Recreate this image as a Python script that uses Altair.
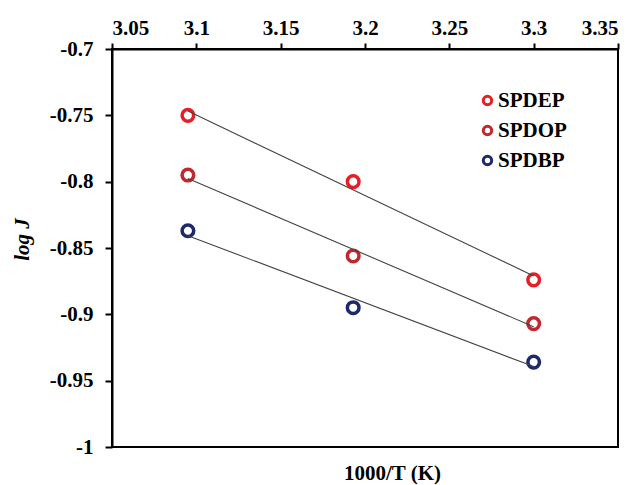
import altair as alt
import pandas as pd

series_names = ["SPDEP", "SPDOP", "SPDBP"]
inv_temp = [3.095, 3.193, 3.300]
spdep = [-0.750, -0.800, -0.874]
spdop = [-0.795, -0.856, -0.907]
spdbp = [-0.837, -0.895, -0.936]
colors = ["#E61E25", "#C1272D", "#1C2A6B"]
x_ticks = [3.05, 3.1, 3.15, 3.2, 3.25, 3.3, 3.35]
y_ticks = [-1, -0.95, -0.9, -0.85, -0.8, -0.75, -0.7]

rows = []
for name, vals in zip(series_names, [spdep, spdop, spdbp]):
    for xv, yv in zip(inv_temp, vals):
        rows.append({"x": xv, "y": yv, "series": name})
df = pd.DataFrame(rows)

FONT = "Liberation Serif"

xenc = alt.X("x:Q", scale=alt.Scale(domain=[3.05, 3.35], nice=False, zero=False),
             axis=alt.Axis(orient="top", values=x_ticks,
                           labelExpr="datum.value + ''", title="1000/T (K)", titleX=280, titleY=424,
                           titleAlign="center", titleBaseline="middle",
                           grid=False, tickSize=6, labelPadding=5))
yenc = alt.Y("y:Q", scale=alt.Scale(domain=[-1.0, -0.7], nice=False, zero=False),
             axis=alt.Axis(values=y_ticks, labelExpr="datum.value + ''",
                           title="log J", titleX=-90, titleY=190, titleAngle=-90,
                           titleAlign="center", titleBaseline="middle",
                           titleFontStyle="italic",
                           grid=False, tickSize=7, labelPadding=12))

points = alt.Chart(df).mark_point(shape="circle", filled=False, size=135, strokeWidth=3.5, opacity=1).encode(
    x=xenc, y=yenc,
    color=alt.Color("series:N", scale=alt.Scale(domain=series_names, range=colors),
                    sort=series_names,
                    legend=alt.Legend(title=None, orient="none", legendX=365, legendY=41,
                                      symbolType="circle", symbolSize=70, symbolStrokeWidth=3,
                                      symbolFillColor="white", labelOffset=0, rowPadding=8,
                                      padding=0, labelFont=FONT, labelFontSize=21,
                                      labelFontWeight="bold", labelColor="black")),
)

lines = alt.Chart(df).transform_regression("x", "y", groupby=["series"]).mark_line(
    color="#444444", strokeWidth=1.1).encode(x="x:Q", y="y:Q", detail="series:N")

chart = alt.layer(points, lines).properties(
    width=506, height=398,
    autosize=alt.AutoSizeParams(type="none"),
    padding={"left": 112, "top": 49, "right": 21, "bottom": 38},
).configure_view(stroke="black", strokeWidth=2).configure_axis(
    domainColor="black", domainWidth=2, tickColor="black", tickWidth=2,
    labelFont=FONT, labelFontSize=21, labelFontWeight="bold", labelColor="black",
    titleFont=FONT, titleFontSize=21, titleFontWeight="bold", titleColor="black",
)

chart.save("out.html", embed_options={"renderer": "svg", "actions": False})
